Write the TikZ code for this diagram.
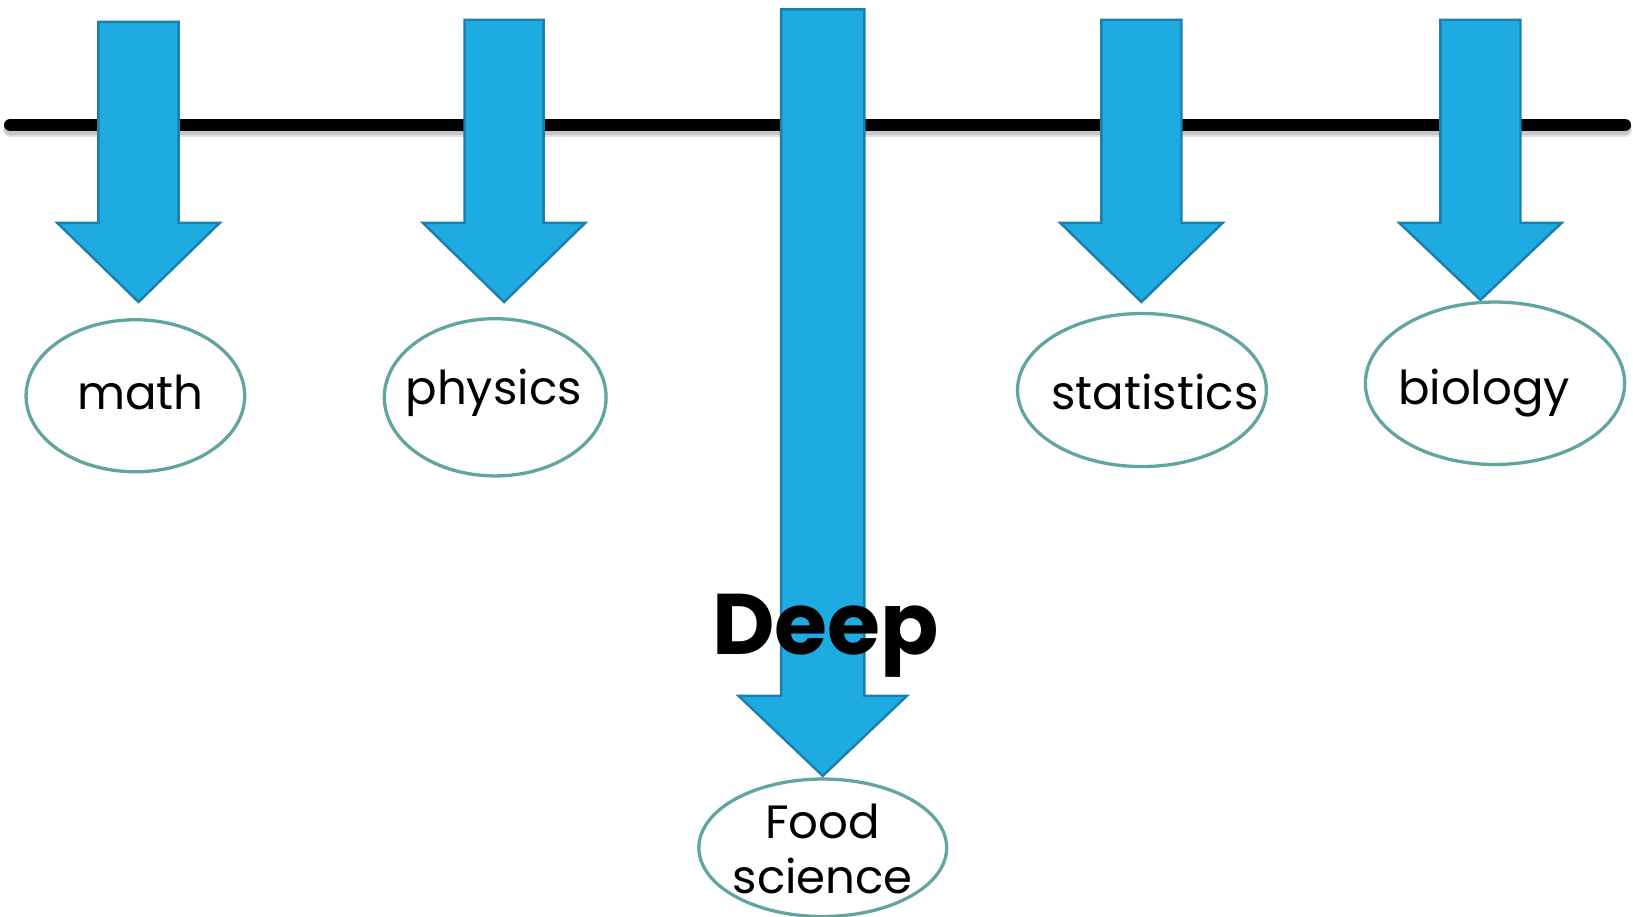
\documentclass[tikz,border=0pt]{standalone}
\usepackage{fontspec}
\setmainfont{Poppins}
\usetikzlibrary{shapes.geometric}
\definecolor{arrowfill}{HTML}{1EABE2}
\definecolor{arrowedge}{HTML}{1A7FAA}
\definecolor{elledge}{HTML}{62A5A0}
\tikzset{
  bigarrow/.style={fill=arrowfill,draw=arrowedge,line width=1.3pt,line join=miter},
  ell/.style={ellipse,draw=elledge,fill=white,line width=1.8pt,inner sep=0pt},
  lbl/.style={anchor=base,inner sep=0pt,font=\fontsize{25.5}{30}\selectfont},
  baseline/.style={line width=7pt,line cap=round,black},
}
\newcommand\downarr[6]{% cx, top, base, tip, halfshaft, halfhead
  \draw[bigarrow] (#1-#5,#2) -- (#1+#5,#2) -- (#1+#5,#3) -- (#1+#6,#3) -- (#1,#4) -- (#1-#6,#3) -- (#1-#5,#3) -- cycle;}
\begin{document}
\begin{tikzpicture}[x=0.02cm,y=-0.02cm]
\useasboundingbox (0,0) rectangle (1568,880);
% horizontal line with soft shadow
\coordinate (L) at (10,120);
\coordinate (R) at (1560,120);
\draw[line width=8pt,line cap=round,black!12] ([yshift=-2.5pt]L) -- ([yshift=-2.5pt]R);
\draw[line width=7pt,line cap=round,black!22] ([yshift=-1.8pt]L) -- ([yshift=-1.8pt]R);
\draw[baseline] (L) -- (R);
% arrows
\downarr{133}{21}{214}{290}{38.5}{78}
\downarr{484}{19}{214}{290}{38}{78}
\downarr{790}{9}{668}{745}{40}{81}
\downarr{1096}{19}{214}{290}{38.5}{78}
\downarr{1421.5}{19}{214}{288}{38.5}{78}
% ellipses
\node[ell,minimum width=4.2cm,minimum height=2.92cm] (emath) at (130,380) {};
\node[ell,minimum width=4.26cm,minimum height=3.02cm] (ephys) at (475.5,381.5) {};
\node[ell,minimum width=4.76cm,minimum height=2.64cm] (efood) at (790,814) {};
\node[ell,minimum width=4.78cm,minimum height=2.94cm] (estat) at (1096.5,374.5) {};
\node[ell,minimum width=4.98cm,minimum height=3.12cm] (ebio) at (1435.5,368) {};
% labels
\node[lbl] (tmath) at (135,393) {math};
\node[lbl] (tphys) at (474,388) {physics};
\node[lbl] (tstat) at (1109,393) {statistics};
\node[lbl] (tbio) at (1425,388) {biology};
\node[lbl] (tfood) at (790,805) {Food};
\node[lbl] (tsci) at (790,858) {science};
\node[anchor=base,inner sep=0pt,font=\fontsize{47}{50}\selectfont\bfseries] (deep) at (793,628) {Deep};
\end{tikzpicture}
\end{document}
